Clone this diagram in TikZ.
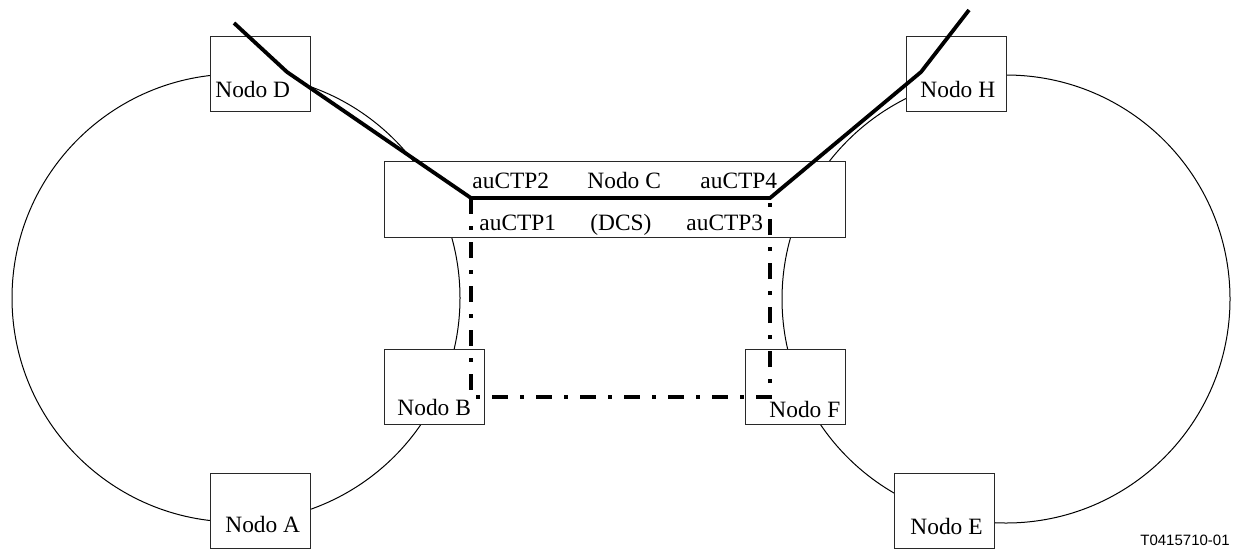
\documentclass[tikz,border=0pt]{standalone}
\usepackage{fontspec}
\setmainfont{Liberation Serif}
\newfontfamily\tagfont{Liberation Sans}
\usepackage{tikz}
\usetikzlibrary{positioning}
\definecolor{mydark}{RGB}{40,40,40}
\tikzset{
  nodobox/.style={rectangle, draw=mydark, fill=white,
    minimum width=50pt, minimum height=37.5pt,
    inner sep=0pt, line width=0.5pt},
  dcsbox/.style={nodobox, minimum width=230.5pt, minimum height=38pt},
  lbl/.style={anchor=base west, inner sep=0pt,
    font=\fontsize{11.7}{14}\selectfont},
  ring/.style={line width=0.5pt, color=black},
  workline/.style={line width=1.9pt, color=black},
  protline/.style={line width=1.8pt, color=black,
    dash pattern=on 8pt off 6pt on 2pt off 6pt}
}

\begin{document}
\begin{tikzpicture}[x=0.5pt, y=-0.5pt]
  \useasboundingbox (0,0) rectangle (1234,553);

  % Rings
  \draw[ring] (236,298) circle [radius=112pt];
  \draw[ring] (1006,299) circle [radius=112pt];

  % Nodes
  \node[nodobox] (nodoD) at (260,73.5) {};
  \node[nodobox] (nodoA) at (260,510.5) {};
  \node[nodobox] (nodoB) at (434,386.5) {};
  \node[nodobox] (nodoH) at (956.5,73.5) {};
  \node[nodobox] (nodoF) at (795,386.5) {};
  \node[nodobox] (nodoE) at (944,510.5) {};
  \node[dcsbox]  (nodoC) at (614.5,199) {};

  \node[lbl] (lblD) at (215,97) {Nodo D};
  \node[lbl] (lblA) at (225,532) {Nodo A};
  \node[lbl] (lblB) at (397,415) {Nodo B};
  \node[lbl] (lblH) at (920,97) {Nodo H};
  \node[lbl] (lblF) at (769,417) {Nodo F};
  \node[lbl] (lblE) at (910,534) {Nodo E};

  % Nodo C ports
  \node[lbl] (ctp2) at (472,188) {auCTP2};
  \node[lbl] (lblC) at (587,188) {Nodo C};
  \node[lbl] (ctp4) at (700,188) {auCTP4};
  \node[lbl] (ctp1) at (479,230) {auCTP1};
  \node[lbl] (lblDCS) at (590,230) {(DCS)};
  \node[lbl] (ctp3) at (686,230) {auCTP3};

  % Working path
  \coordinate (endD) at (234,23);
  \coordinate (inD) at (287,72);
  \coordinate (portL) at (471,198);
  \coordinate (portR) at (770,198);
  \coordinate (inH) at (921,72);
  \coordinate (endH) at (969,10);
  \draw[workline] (endD) -- (inD) -- (portL) -- (portR) -- (inH) -- (endH);

  % Protection path
  \coordinate (inB) at (471,397);
  \coordinate (inF) at (770,397);
  \draw[protline] (portL) -- (inB) -- (inF) -- (portR);

  \node[anchor=base east, inner sep=0pt, font=\tagfont\fontsize{7.5}{9}\selectfont]
    (figtag) at (1230,545) {T0415710-01};
\end{tikzpicture}
\end{document}
